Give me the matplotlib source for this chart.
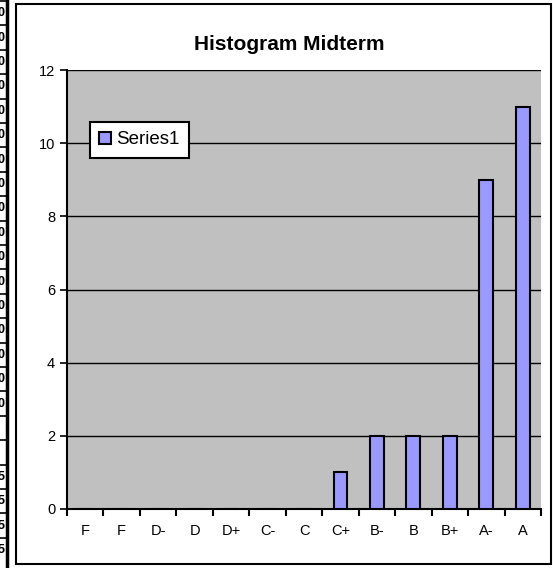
import matplotlib
matplotlib.use("Agg")
import matplotlib.pyplot as plt
from matplotlib.patches import Rectangle
from matplotlib.lines import Line2D
import numpy as np

plt.rcParams["font.family"] = ["Liberation Sans", "DejaVu Sans"]

# grade categories and counts
grades = ["F", "F", "D-", "D", "D+", "C-", "C", "C+", "B-", "B", "B+", "A-", "A"]
counts = [0, 0, 0, 0, 0, 0, 0, 1, 2, 2, 2, 9, 11]
yticks = [0, 2, 4, 6, 8, 10, 12]
cell_digits = ["0"] * 17 + ["", ""] + ["5"] * 4

W, H = 553, 568
fig = plt.figure(figsize=(W / 100, H / 100), dpi=100)
fig.patch.set_facecolor("white")

# spreadsheet fragment on the left edge
fig.add_artist(Line2D([6.5 / W, 6.5 / W], [0, 1], color="black", lw=2.5,
                      transform=fig.transFigure))
row_h = 24.4
for i, d in enumerate(cell_digits):
    ytop = 1 + i * row_h
    fig.add_artist(Line2D([0, 6 / W], [1 - ytop / H, 1 - ytop / H], color="black",
                          lw=1.2, transform=fig.transFigure))
    if d:
        fig.text(4.5 / W, 1 - (ytop + row_h / 2) / H, d, ha="right", va="center",
                 fontsize=9, fontweight="bold")

# chart area border
fig.add_artist(Rectangle((16 / W, 4 / H), (551 - 16) / W, (564 - 4) / H,
                         transform=fig.transFigure, fill=False, ec="black", lw=1.5))

ax = fig.add_axes([67 / W, 1 - 509 / H, (541 - 67) / W, (509 - 70) / H])
ax.set_facecolor("#C0C0C0")

x = np.arange(len(grades))
bars = ax.bar(x, counts, width=0.38, color="#9999FF", edgecolor="black",
              linewidth=1.5, label="Series1", zorder=3)

ax.set_xlim(-0.5, len(grades) - 0.5)
ax.set_ylim(0, 12)
ax.set_yticks(yticks)
ax.yaxis.grid(True, color="black", lw=1)
ax.set_axisbelow(True)
ax.tick_params(axis="y", direction="out", length=5, width=1.2, labelsize=10.5, pad=3.5)

ax.set_xticks(np.arange(-0.5, len(grades)), labels=[""] * (len(grades) + 1))
ax.set_xticks(x, labels=grades, minor=True)
ax.tick_params(axis="x", which="major", direction="out", length=5, width=1.5)
ax.tick_params(axis="x", which="minor", length=0, labelsize=10.5, pad=11)

for s in ["top", "right"]:
    ax.spines[s].set_visible(False)
ax.spines["left"].set_linewidth(1.5)
ax.spines["bottom"].set_linewidth(1.5)

fig.text(289.5 / W, 1 - 44 / H, "Histogram Midterm", ha="center", va="center",
         fontsize=15, fontweight="bold")

leg = ax.legend(loc="upper left", bbox_to_anchor=((90 - 67) / 474, (509 - 122) / 439),
                fancybox=False, framealpha=1, edgecolor="black", fontsize=13.5,
                handlelength=0.6, handleheight=0.6, handletextpad=0.3,
                borderpad=0.5, borderaxespad=0)
leg.get_frame().set_linewidth(1.5)

fig.savefig("out.png", dpi=100)
